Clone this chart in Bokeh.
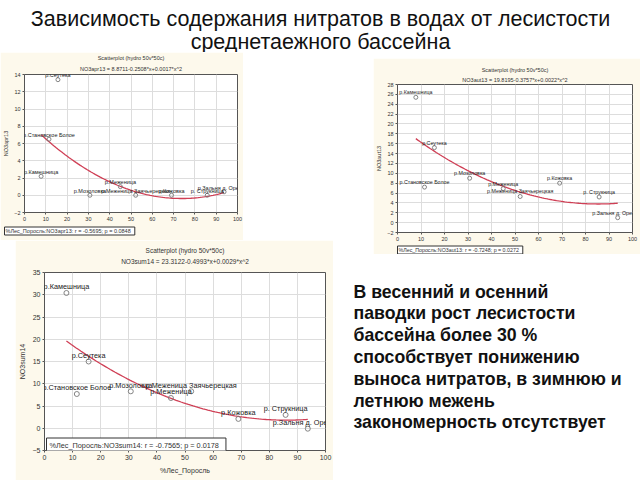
from bokeh.plotting import figure
from bokeh.layouts import column, row
from bokeh.models import Range1d, Title, Label, FixedTicker
from bokeh.core.properties import value
from bokeh.embed import file_html
from bokeh.resources import INLINE
import numpy as np

# ---------------- data ----------------
rivers = ["р.Камешница", "р.Сеутека", "р.Становское Болое", "р.Мозоловка",
          "р.Меженица", "р.Меженица Заячьерецкая", "р.Кожовка",
          "р. Струкница", "р.Зальня д. Орехово"]
forest_pct = [7.8, 15.7, 11.5, 30.7, 45.0, 52.2, 69.0, 85.8, 93.7]
no3_apr13 = [2.2, 13.4, 6.5, 0.0, 1.0, 0.0, 0.0, 0.0, 0.4]
no3_aut13 = [25.4, 15.2, 7.2, 9.0, 6.9, 5.3, 8.0, 5.2, 1.0]
no3_sum14 = [30.4, 15.0, 7.7, 8.3, 6.8, 8.3, 2.1, 3.0, -0.1]

coef_apr13 = [8.8711, -0.2508, 0.0017]
coef_aut13 = [19.8195, -0.3757, 0.0022]
coef_sum14 = [23.3122, -0.4993, 0.0029]

eq_apr13 = "NO3apr13 = 8.8711-0.2508*x+0.0017*x^2"
eq_aut13 = "NO3aut13 = 19.8195-0.3757*x+0.0022*x^2"
eq_sum14 = "NO3sum14 = 23.3122-0.4993*x+0.0029*x^2"
stat_apr13 = "%Лес_Поросль:NO3apr13:   r = -0.5695; p = 0.0848"
stat_aut13 = "%Лес_Поросль:NO3aut13:   r = -0.7248; p = 0.0272"
stat_sum14 = "%Лес_Поросль:NO3sum14:   r = -0.7565; p = 0.0178"
subtitle = "Scatterplot (hydro 50v*50c)"
x_label = "%Лес_Поросль"
x_ticks = list(range(0, 101, 10))

title_lines = ["Зависимость содержания нитратов в водах от лесистости",
               "среднетаежного бассейна"]
body_lines = ["В весенний и осенний",
              "паводки рост лесистости",
              "бассейна более 30 %",
              "способствует понижению",
              "выноса нитратов, в зимнюю и",
              "летнюю межень",
              "закономерность отсутствует"]

CREAM = "#fdf9ec"
FONT = "Liberation Sans"
TXT = "#333333"
CURVE = "#cf3f55"


def scatter_panel(w, h, margin, borders, yr, ystep, yvals, coefs, ylabel, eq, stat,
                  stat_inside, stat_pos, fs, lab_fs, lab_off, circ, t_stand,
                  ax_stand, stat_stand, title_fs, gap_fs):
    bl, br, bt, bb = borders
    p = figure(width=w, height=h, margin=margin, output_backend="svg",
               toolbar_location=None, x_range=Range1d(0, 100),
               y_range=Range1d(yr[0], yr[1]), frame_align=False,
               min_border_left=bl, min_border_right=br,
               min_border_top=bt, min_border_bottom=bb)
    p.border_fill_color = CREAM
    p.background_fill_color = "white"
    p.outline_line_color = "#555555"
    p.outline_line_width = 1

    # titles: (gap), equation next to the frame, "Scatterplot ..." above it
    p.title.text = subtitle
    p.title.align = "center"
    p.title.text_font = FONT
    p.title.text_font_size = title_fs
    p.title.text_font_style = "normal"
    p.title.text_color = TXT
    p.title.standoff = t_stand[1]
    if gap_fs:
        p.add_layout(Title(text=" ", text_font_size=gap_fs, standoff=0), "above")
    p.add_layout(Title(text=eq, align="center", text_font=FONT,
                       text_font_size=title_fs, text_font_style="normal",
                       text_color=TXT, standoff=t_stand[0]), "above")

    yticks = list(np.arange(yr[0], yr[1] + 0.001, ystep))
    for ax in (p.xaxis[0], p.yaxis[0]):
        ax.major_label_text_font = FONT
        ax.major_label_text_font_size = fs
        ax.major_label_text_color = TXT
        ax.axis_label_text_font = FONT
        ax.axis_label_text_font_size = fs
        ax.axis_label_text_font_style = "normal"
        ax.axis_label_text_color = TXT
        ax.axis_line_color = None
        ax.major_tick_line_color = "#555555"
        ax.major_tick_in = 0
        ax.major_tick_out = 2
        ax.minor_tick_line_color = None
        ax.major_label_standoff = 2
        ax.axis_label_standoff = ax_stand
    p.xaxis.ticker = FixedTicker(ticks=x_ticks)
    p.yaxis.ticker = FixedTicker(ticks=yticks)
    p.yaxis.axis_label = ylabel
    p.xgrid.ticker = FixedTicker(ticks=x_ticks)
    p.ygrid.ticker = FixedTicker(ticks=yticks)
    p.grid.grid_line_color = "#dddddd"
    p.grid.grid_line_width = 1

    # fit curve
    xs = np.linspace(min(forest_pct), max(forest_pct), 100)
    ys = coefs[0] + coefs[1] * xs + coefs[2] * xs ** 2
    p.line(xs, ys, line_color=CURVE, line_width=1.3)

    # points + labels
    p.scatter(forest_pct, yvals, marker="circle", size=circ, fill_color=None,
              line_color="#777777", line_width=0.9)
    p.text(forest_pct, yvals, text=rivers, text_font=value(FONT),
           text_font_size=lab_fs, text_color="#222222", text_align="center",
           text_baseline="middle", y_offset=-lab_off)

    if stat_inside:
        p.xaxis.axis_label = x_label
        lab = Label(x=stat_pos[0], y=stat_pos[1], x_units="screen", y_units="screen",
                    text=stat, text_font=FONT, text_font_size=lab_fs,
                    text_color=TXT, text_baseline="middle",
                    border_line_color="#333333", border_line_width=1,
                    background_fill_color="white", padding=3)
        p.add_layout(lab)
    else:
        t = Title(text=stat, align="left", offset=stat_pos[0], text_font=FONT,
                  text_font_size=lab_fs, text_font_style="normal",
                  text_color=TXT, standoff=stat_stand,
                  border_line_color="#333333", border_line_width=1,
                  background_fill_color="white", padding=1)
        p.add_layout(t, "below")
    return p


p1 = scatter_panel(243, 188, (0, 0, 0, 0), (22, 6, 22, 28), (-2, 14), 2,
                   no3_apr13, coef_apr13, "NO3apr13", eq_apr13, stat_apr13,
                   False, (-20, 0), "5.5px", "5.5px", 4.3, 4, (5, 1), 2, 3,
                   "5.5px", None)
p2 = scatter_panel(267, 196, (6, 0, 0, 40), (24, 8, 26, 18), (-2, 28), 2,
                   no3_aut13, coef_aut13, "NO3aut13", eq_aut13, stat_aut13,
                   False, (0, 0), "5.5px", "5.3px", 5, 4, (3, 1), 2, 1,
                   "5.5px", None)
p3 = scatter_panel(318, 240, (0, 0, 0, 15), (28, 8, 32, 30), (-5, 35), 5,
                   no3_sum14, coef_sum14, "NO3sum14", eq_sum14, stat_sum14,
                   True, (2, 5), "7px", "7.3px", 6.3, 5, (2, 2), 4, 0,
                   "6.5px", "4px")

# title
pt = figure(width=640, height=52, output_backend="svg", toolbar_location=None,
            x_range=Range1d(0, 640), y_range=Range1d(52, 0), min_border=0,
            x_axis_location=None, y_axis_location=None, title_location=None,
            frame_align=False)
pt.grid.visible = False
pt.outline_line_color = None
pt.text([320, 320], [18, 41], text=title_lines, text_font=value(FONT),
        text_font_size="21.5px", text_color="#111111", text_align="center",
        text_baseline="middle")

# right text block
pb = figure(width=307, height=226, output_backend="svg", toolbar_location=None,
            x_range=Range1d(0, 307), y_range=Range1d(226, 0), min_border=0,
            x_axis_location=None, y_axis_location=None, title_location=None,
            frame_align=False)
pb.grid.visible = False
pb.outline_line_color = None
ys_body = [37 + 21.8 * i for i in range(len(body_lines))]
pb.text([20] * len(body_lines), ys_body, text=body_lines, text_font=value(FONT),
        text_font_size="17.7px", text_font_style="bold", text_color="#111111",
        text_align="left", text_baseline="middle")

layout = column(pt, row(column(p1, p3, spacing=0), column(p2, pb, spacing=0), spacing=0),
                spacing=0)

open("out.html", "w").write(file_html(layout, INLINE))
